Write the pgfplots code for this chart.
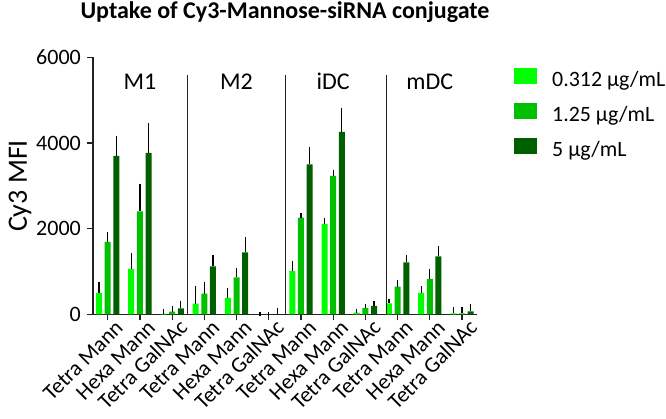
\documentclass[border=0pt]{standalone}
\usepackage{pgfplots}
\pgfplotsset{compat=1.18}
\usepackage{pgfplotstable}
\usepackage{fontspec}
\setmainfont{Carlito}
\definecolor{cLight}{HTML}{00FF00}
\definecolor{cMid}{HTML}{00C000}
\definecolor{cDark}{HTML}{006000}
\definecolor{axgray}{HTML}{222222}

\pgfplotstableread{
x y e
0 500 216
1 1058 320
2 8 70
3 249 358
4 381 179
5 0 0
6 1012 186
7 2109 93
8 39 47
9 257 62
10 498 109
11 23 94
}\lowtab
\pgfplotstableread{
x y e
0 1689 180
1 2405 600
2 62 78
3 482 234
4 864 179
5 0 0
6 2257 70
7 3230 101
8 148 54
9 646 117
10 825 194
11 23 94
}\midtab
\pgfplotstableread{
x y e
0 3696 430
1 3767 645
2 140 132
3 1121 225
4 1447 304
5 0 100
6 3502 366
7 4257 513
8 195 70
9 1214 125
10 1354 202
11 70 125
}\hightab

\begin{document}
\begin{tikzpicture}
\path[use as bounding box] (0,0) rectangle (666pt,418pt);
\begin{axis}[
  at={(93pt,103.7pt)}, anchor=south west,
  scale only axis, width=383.7pt, height=257pt,
  xmin=-0.456, xmax=11.456, ymin=0, ymax=6000,
  axis lines=left,
  axis line style={line width=1.2pt, axgray, -},
  tick style={line width=1.2pt, axgray},
  tick align=outside, major tick length=6pt,
  ytick={0,2000,4000,6000},
  scaled y ticks=false,
  /pgf/number format/assume math mode=true,
  /pgf/number format/1000 sep={},
  yticklabel style={font=\fontsize{22}{26}\selectfont, inner sep=0pt, xshift=-6pt},
  xtick={0,...,11},
  xticklabels={Tetra Mann, Hexa Mann, Tetra GalNAc, Tetra Mann, Hexa Mann, Tetra GalNAc, Tetra Mann, Hexa Mann, Tetra GalNAc, Tetra Mann, Hexa Mann, Tetra GalNAc},
  xticklabel style={font=\fontsize{22}{26}\selectfont, rotate=45, anchor=base east, inner sep=0pt, xshift=5.5pt, yshift=-18pt},
  ybar=2.67pt, bar width=6pt,
  clip=false,
  error bars/error bar style={line width=1.2pt, black},
  error bars/error mark options={line width=1.2pt, mark size=2pt, black},
  legend style={at={(1.0972,0.9584)}, anchor=north west, draw=none, fill=none,
    inner sep=0pt, font=\fontsize{21.9}{26}\selectfont,
    row sep=15pt, nodes={inner sep=0pt, anchor=west},
    /tikz/every odd column/.style={column sep=15pt}},
  legend cell align=left,
  legend image code/.code={\fill[#1] (0pt,-4.5pt) rectangle (23pt,11.5pt);},
]
\addplot[fill=cLight, draw=none, error bars/.cd, y dir=plus, y explicit] table[x=x, y=y, y error=e] {\lowtab};
\addplot[fill=cMid, draw=none, error bars/.cd, y dir=plus, y explicit] table[x=x, y=y, y error=e] {\midtab};
\addplot[fill=cDark, draw=none, error bars/.cd, y dir=plus, y explicit] table[x=x, y=y, y error=e] {\hightab};
\legend{0.312 μg/mL, 1.25 μg/mL, 5 μg/mL}
\draw[line width=1pt, axgray] (axis cs:2.49,0) -- (axis cs:2.49,5587);
\draw[line width=1pt, axgray] (axis cs:5.53,0) -- (axis cs:5.53,5587);
\draw[line width=1pt, axgray] (axis cs:8.66,0) -- (axis cs:8.66,5587);
\node[font=\fontsize{24}{28}\selectfont, anchor=base] at (axis cs:1,5253) {M1};
\node[font=\fontsize{24}{28}\selectfont, anchor=base] at (axis cs:4,5253) {M2};
\node[font=\fontsize{24}{28}\selectfont, anchor=base] at (axis cs:7,5253) {iDC};
\node[font=\fontsize{24}{28}\selectfont, anchor=base] at (axis cs:10,5253) {mDC};
\end{axis}
\node[font=\fontsize{28}{32}\selectfont, rotate=90, anchor=base, inner sep=0pt] at (27pt,232pt) {Cy3 MFI};
\node[font=\fontsize{24}{28}\selectfont\bfseries, anchor=base, inner sep=0pt] at (285pt,399pt) {Uptake of Cy3-Mannose-siRNA conjugate};
\end{tikzpicture}
\end{document}
